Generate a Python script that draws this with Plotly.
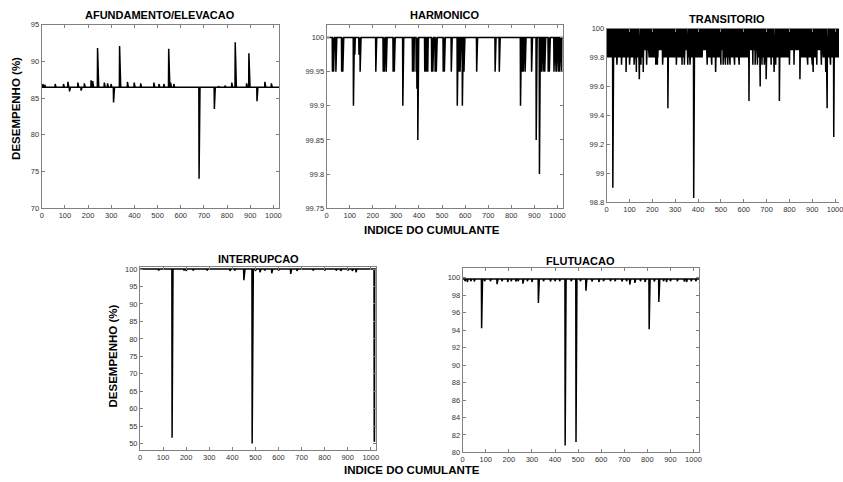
import numpy as np
import plotly.graph_objects as go

W, H = 843, 482
N = 1024
sample_idx = list(range(1, N + 1))

# ---------------- DATA ----------------
# AFUNDAMENTO/ELEVACAO : baseline level plus read-off deviations
afund_base = 86.45
afund_dev_idx = [5, 13, 58, 94, 113, 120, 156, 170, 184, 213, 220, 241, 242, 270, 284, 299,
                 310, 336, 337, 370, 399, 427, 484, 506, 527, 548, 549, 556, 570, 679,
                 745, 763, 791, 820, 835, 836, 884, 894, 895, 929, 963, 991]
afund_dev_val = [86.9, 86.8, 86.9, 86.9, 87.2, 85.9, 87.1, 86.0, 87.0, 87.4, 87.3, 91.8, 89.1, 87.1, 87.0, 86.9,
                 84.4, 92.1, 89.0, 87.2, 87.1, 87.0, 87.1, 86.9, 86.9, 91.7, 88.9, 87.1, 86.9, 74.0,
                 83.5, 86.6, 86.7, 87.1, 92.6, 89.3, 87.0, 91.1, 88.6, 84.55, 87.2, 87.0]

# HARMONICO
harm_base = 100.0
harm_dev_idx = [25, 30, 40, 65, 70, 116, 119, 122, 140, 145, 213, 215, 245, 250, 258, 288, 293,
                330, 372, 378, 388, 391, 395, 425, 432, 438, 455, 460, 470, 475, 505, 510,
                540, 566, 572, 578, 588, 595, 650, 730, 748, 840, 846, 852, 860, 888, 908,
                922, 930, 938, 945, 960, 965, 985, 988, 991, 994, 997, 1000, 1003, 1006,
                1009, 1012, 1015, 1018]
harm_dev_val = [99.95, 99.95, 99.95, 99.95, 99.95, 99.9, 99.95, 99.975, 99.975, 99.95, 99.95, 99.975,
                99.95, 99.95, 99.95, 99.95, 99.95, 99.9, 99.95, 99.95, 99.95, 99.925, 99.85,
                99.95, 99.95, 99.95, 99.95, 99.95, 99.95, 99.95, 99.95, 99.95, 99.95, 99.9,
                99.95, 99.95, 99.9, 99.95, 99.95, 99.95, 99.95, 99.9, 99.95, 99.95, 99.95,
                99.95, 99.85, 99.8, 99.95, 99.95, 99.95, 99.95, 99.95, 99.95, 99.95, 99.95,
                99.95, 99.95, 99.95, 99.95, 99.95, 99.95, 99.95, 99.95, 99.95]

# TRANSITORIO : upper level, lower band level, stretches where the band reaches 99.8
trans_hi = 100.0
trans_lo = 99.85
trans_lo2 = 99.8
trans_lo2_start = [1, 185, 245, 360, 440, 512, 657, 845, 947]
trans_lo2_end = [160, 225, 335, 420, 495, 625, 800, 915, 1024]
trans_dev_idx = [27, 45, 65, 85, 100, 120, 130, 143, 150, 160, 175, 215, 222, 245, 268, 305,
                 330, 340, 355, 365, 381, 440, 460, 477, 500, 510, 520, 530, 540, 560, 580,
                 623, 640, 650, 660, 672, 680, 690, 698, 720, 733, 740, 756, 800, 820, 846,
                 880, 900, 904, 920, 940, 959, 965, 980, 994]
trans_dev_val = [98.9, 99.75, 99.75, 99.7, 99.75, 99.75, 99.7, 99.65, 99.75, 99.7, 99.75, 99.75,
                 99.75, 99.75, 99.45, 99.75, 99.75, 99.75, 99.75, 99.75, 98.83, 99.75, 99.75,
                 99.7, 99.75, 99.75, 99.75, 99.75, 99.75, 99.75, 99.75, 99.5, 99.75, 99.75,
                 99.75, 99.6, 99.75, 99.75, 99.65, 99.75, 99.7, 99.75, 99.5, 99.75, 99.75,
                 99.65, 99.75, 99.75, 99.7, 99.75, 99.75, 99.7, 99.45, 99.75, 99.25]

# INTERRUPCAO
inter_base = 100.0
inter_dev_idx = [80, 139, 190, 200, 230, 290, 390, 410, 450, 451, 486, 487, 500, 520, 540, 571,
                 600, 653, 680, 750, 800, 850, 870, 900, 920, 936, 1015, 1016]
inter_dev_val = [99.6, 51.7, 99.6, 99.5, 99.6, 99.6, 99.5, 99.6, 96.8, 97.5, 50.0, 75.0, 99.5,
                 99.1, 99.6, 98.8, 99.6, 98.6, 99.5, 99.6, 99.6, 99.6, 99.5, 99.6, 99.5, 99.1,
                 50.8, 50.5]

# FLUTUACAO
flut_base = 99.85
flut_dev_idx = [10, 20, 35, 50, 82, 95, 120, 149, 170, 195, 210, 230, 240, 261, 280, 300, 328,
                350, 380, 400, 420, 444, 470, 491, 510, 534, 560, 590, 610, 640, 660, 690,
                710, 724, 746, 770, 790, 808, 830, 850, 870, 883, 900, 930, 960, 970, 990, 1010]
flut_dev_val = [99.6, 99.5, 99.6, 99.55, 94.2, 99.6, 99.6, 99.25, 99.6, 99.5, 99.6, 99.55, 99.6,
                99.3, 99.6, 99.5, 97.1, 99.6, 99.55, 99.6, 99.6, 80.8, 99.6, 81.2, 99.6, 98.5,
                99.55, 99.5, 99.6, 99.6, 99.6, 99.55, 99.6, 99.2, 99.4, 99.6, 99.5, 94.1, 99.55,
                97.2, 99.6, 99.5, 99.6, 99.6, 99.55, 99.5, 99.6, 99.6]

x_ticks = [0, 100, 200, 300, 400, 500, 600, 700, 800, 900, 1000]
x_tick_text = ["0", "100", "200", "300", "400", "500", "600", "700", "800", "900", "1000"]
afund_yticks = [70, 75, 80, 85, 90, 95]
harm_yticks = [99.75, 99.8, 99.85, 99.9, 99.95, 100]
harm_ytext = ["99.75", "99.8", "99.85", "99.9", "99.95", "100"]
trans_yticks = [98.8, 99.0, 99.2, 99.4, 99.6, 99.8, 100]
trans_ytext = ["98.8", "99", "99.2", "99.4", "99.6", "99.8", "100"]
inter_yticks = [50, 55, 60, 65, 70, 75, 80, 85, 90, 95, 100]
flut_yticks = [80, 82, 84, 86, 88, 90, 92, 94, 96, 98, 100]

titles = ["AFUNDAMENTO/ELEVACAO", "HARMONICO", "TRANSITORIO", "INTERRUPCAO", "FLUTUACAO"]
y_label = "DESEMPENHO (%)"
x_label = "INDICE DO CUMULANTE"


def build(base, dev_idx, dev_val):
    y = np.full(N, base, dtype=float)
    for i, v in zip(dev_idx, dev_val):
        y[i - 1] = v
    return y


afund_y = build(afund_base, afund_dev_idx, afund_dev_val)
harm_y = build(harm_base, harm_dev_idx, harm_dev_val)
inter_y = build(inter_base, inter_dev_idx, inter_dev_val)
flut_y = build(flut_base, flut_dev_idx, flut_dev_val)

trans_y = np.array([trans_hi if k % 2 == 0 else trans_lo for k in range(N)], dtype=float)
for s, e in zip(trans_lo2_start, trans_lo2_end):
    for k in range(s - 1, e):
        if k % 2 == 1:
            trans_y[k] = trans_lo2
for i, v in zip(trans_dev_idx, trans_dev_val):
    trans_y[i - 1] = v

series = [afund_y, harm_y, trans_y, inter_y, flut_y]

# ---------------- LAYOUT ----------------
# pixel boxes (left, top, right, bottom)
boxes = [(40, 21, 279, 208), (327, 21, 565, 208), (609, 25, 843, 202),
         (139, 268, 377, 454), (464, 269, 702, 457)]
x_ranges = [[0, 1024], [0, 1024], [0, 1017], [0, 1024], [0, 1024]]
y_ranges = [[70, 95], [99.75, 100.019], [98.8, 100.0], [48.3, 100.6], [80, 101.1]]
y_tick_sets = [(afund_yticks, [str(v) for v in afund_yticks]), (harm_yticks, harm_ytext),
               (trans_yticks, trans_ytext), (inter_yticks, [str(v) for v in inter_yticks]),
               (flut_yticks, [str(v) for v in flut_yticks])]
title_pos = [(159, 11.5), (446, 11.5), (730, 15.5), (258, 260), (583, 262)]

FONT = "Liberation Sans, Arial, sans-serif"
tickfont = dict(family=FONT, size=7.5, color="#333333")

fig = go.Figure()
layout = dict(width=W, height=H, margin=dict(l=0, r=0, t=0, b=0),
              paper_bgcolor="white", plot_bgcolor="white", showlegend=False)

for k in range(5):
    n = "" if k == 0 else str(k + 1)
    fig.add_trace(go.Scatter(x=sample_idx, y=series[k], mode="lines",
                             line=dict(color="black", width=1.5),
                             xaxis="x" + n, yaxis="y" + n, hoverinfo="skip"))
    l, t, r, b = boxes[k]
    layout["xaxis" + n] = dict(domain=[l / W, r / W], range=x_ranges[k], anchor="y" + n,
                               tickvals=x_ticks, ticktext=x_tick_text, ticks="inside",
                               ticklen=3, tickcolor="#808080", showline=True,
                               linecolor="#808080", linewidth=1, mirror="ticks",
                               showgrid=False, zeroline=False, tickfont=tickfont,
                               ticklabeloverflow="allow")
    layout["yaxis" + n] = dict(domain=[1 - b / H, 1 - t / H], range=y_ranges[k], anchor="x" + n,
                               tickvals=y_tick_sets[k][0], ticktext=y_tick_sets[k][1],
                               ticks="inside", ticklen=3, tickcolor="#808080", showline=True,
                               linecolor="#808080", linewidth=1,
                               mirror=(False if k == 2 else "ticks"),
                               showgrid=False, zeroline=False, tickfont=tickfont,
                               ticklabeloverflow="allow")

annotations = []
for k in range(5):
    cx, cy = title_pos[k]
    annotations.append(dict(text="<b>" + titles[k] + "</b>", x=cx / W, y=1 - cy / H,
                            xref="paper", yref="paper", showarrow=False,
                            xanchor="center", yanchor="middle",
                            font=dict(family=FONT, size=11, color="black")))
for (cx, cy) in [(14, 106), (112, 359)]:
    annotations.append(dict(text="<b>" + y_label + "</b>", x=cx / W, y=1 - cy / H,
                            xref="paper", yref="paper", showarrow=False, textangle=-90,
                            xanchor="center", yanchor="middle",
                            font=dict(family=FONT, size=11.5, color="black")))
for (cx, cy) in [(433, 230), (413, 475)]:
    annotations.append(dict(text="<b>" + x_label + "</b>", x=cx / W, y=1 - cy / H,
                            xref="paper", yref="paper", showarrow=False,
                            xanchor="center", yanchor="middle",
                            font=dict(family=FONT, size=11.5, color="black")))
layout["annotations"] = annotations
fig.update_layout(**layout)
fig.write_html("out.html")
